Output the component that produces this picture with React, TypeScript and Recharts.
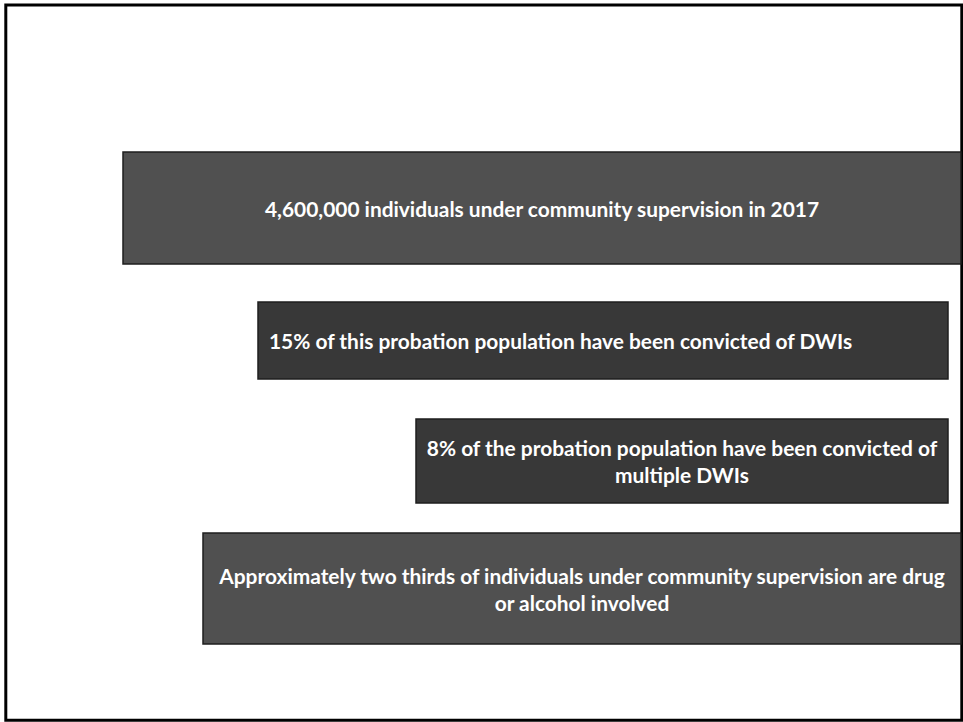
import React from 'react';
import { ComposedChart, XAxis, YAxis, ReferenceArea } from 'recharts';

// Slide boxes (slide units = pixels of a 963 x 722 slide)
const boxLeft = [123, 258, 416, 203];
const boxRight = [961, 948, 948, 961];
const boxTop = [152, 302, 419, 533];
const boxBottom = [264, 379, 503, 644];
const boxText: string[][] = [
  ['4,600,000 individuals under community supervision in 2017'],
  ['15% of this probation population have been convicted of DWIs'],
  ['8% of the probation population have been convicted of', 'multiple DWIs'],
  ['Approximately two thirds of individuals under community supervision are drug', 'or alcohol involved'],
];
const boxFill = ['#505050', '#383838', '#383838', '#505050'];
const boxAlign = ['middle', 'start', 'middle', 'middle'];

const W = 963;
const H = 722;
const FONT = 'Lato, "Open Sans", sans-serif';
const LINE_H = 27;

function makeLabel(lines: string[], align: string) {
  return (props: any) => {
    const vb = props.viewBox || {};
    const { x = 0, y = 0, width = 0, height = 0 } = vb;
    const cy = y + height / 2;
    const tx = align === 'start' ? x + 11 : x + width / 2;
    const startY = cy - ((lines.length - 1) * LINE_H) / 2;
    return (
      <text
        x={tx}
        y={startY}
        textAnchor={align as any}
        fill="#ffffff"
        fontFamily={FONT}
        fontWeight={700}
        fontSize={20.9}
      >
        {lines.map((l, i) => (
          <tspan key={i} x={tx} y={startY + i * LINE_H} dominantBaseline="central">
            {l}
          </tspan>
        ))}
      </text>
    );
  };
}

export default function App() {
  return (
    <div style={{ position: 'absolute', left: 0, top: 0, width: W, height: H, background: '#fff' }}>
      <ComposedChart width={W} height={H} data={[]} margin={{ top: 0, right: 0, bottom: 0, left: 0 }}>
        <XAxis type="number" dataKey="x" domain={[0, W]} hide allowDataOverflow />
        <YAxis type="number" dataKey="y" domain={[0, H]} reversed hide allowDataOverflow />
        <ReferenceArea
          x1={5.8}
          x2={961.8}
          y1={5}
          y2={720.3}
          fill="none"
          fillOpacity={0}
          stroke="#000"
          strokeWidth={3}
          ifOverflow="visible"
        />
        {boxLeft.map((l, i) => (
          <ReferenceArea
            key={i}
            x1={l}
            x2={boxRight[i]}
            y1={boxTop[i]}
            y2={boxBottom[i]}
            fill={boxFill[i]}
            fillOpacity={1}
            stroke="#1e1e1e"
            strokeWidth={1.5}
            ifOverflow="visible"
            label={makeLabel(boxText[i], boxAlign[i])}
          />
        ))}
      </ComposedChart>
    </div>
  );
}
